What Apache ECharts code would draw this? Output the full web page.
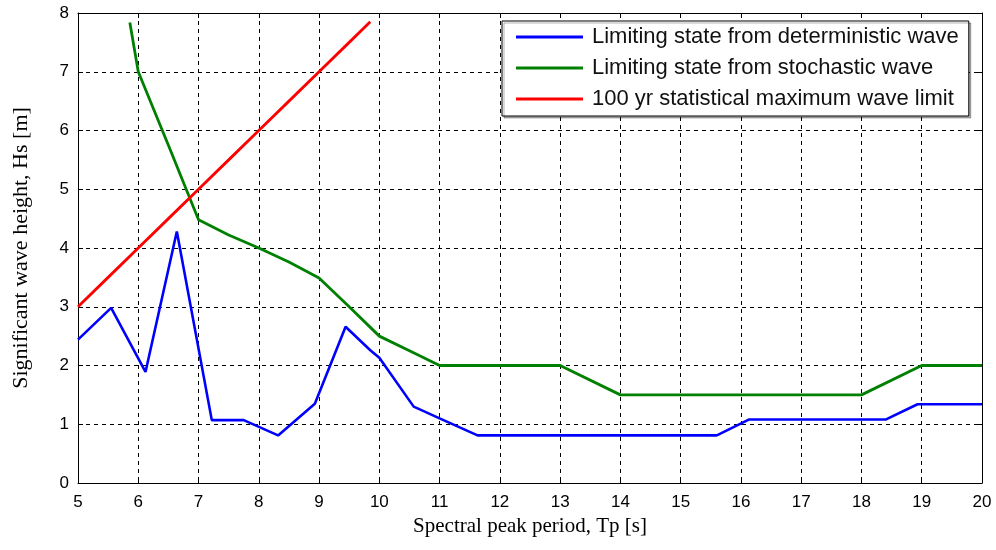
<!DOCTYPE html>
<html>
<head>
<meta charset="utf-8">
<script src="https://cdn.jsdelivr.net/npm/echarts@6/dist/echarts.min.js"></script>
<style>
  html, body { margin: 0; padding: 0; background: #fff; }
  #chart { width: 996px; height: 550px; }
</style>
</head>
<body>
<div id="chart"></div>
<script>
// Spectral peak period Tp [s] vs significant wave height Hs [m]
const deterministicTp = [5, 5.55, 6.12, 6.64, 7.22, 7.75, 8.32, 8.93, 9.44, 9.85, 10.0, 10.57, 11.0, 11.63, 15.6, 16.13, 18.4, 18.93, 20];
const deterministicHs = [2.44, 2.98, 1.89, 4.28, 1.07, 1.07, 0.81, 1.35, 2.66, 2.26, 2.13, 1.3, 1.1, 0.81, 0.81, 1.08, 1.08, 1.34, 1.34];

const stochasticTp = [5.86, 6.0, 6.5, 7.0, 7.5, 8.0, 8.5, 9.0, 9.5, 10.0, 10.5, 11.0, 13.0, 14.0, 18.0, 19.0, 20.0];
const stochasticHs = [7.84, 7.0, 5.75, 4.48, 4.22, 4.0, 3.76, 3.49, 3.0, 2.5, 2.25, 2.0, 2.0, 1.5, 1.5, 2.0, 2.0];

const limitTp = [5, 5.5, 6, 6.5, 7, 7.5, 8, 8.5, 9, 9.5, 9.85];
const limitHs = [3, 3.5, 4, 4.5, 5, 5.5, 6, 6.5, 7, 7.5, 7.85];

const seriesNames = [
  'Limiting state from deterministic wave',
  'Limiting state from stochastic wave',
  '100 yr statistical maximum wave limit'
];
const seriesColors = ['#0000ff', '#008000', '#ff0000'];

const xTitle = 'Spectral peak period, Tp [s]';
const yTitle = 'Significant wave height, Hs [m]';

const pairs = (xs, ys) => xs.map((x, i) => [x, ys[i]]);

const tickFont = { fontFamily: 'Liberation Sans', fontSize: 17, color: '#000' };
const gridDash = { color: '#000', width: 1, type: [4, 4] };

const chart = echarts.init(document.getElementById('chart'), null, { renderer: 'canvas' });
chart.setOption({
  animation: false,
  backgroundColor: '#fff',
  grid: { left: 78, right: 14, top: 13, bottom: 67, containLabel: false },
  legend: {
    left: 502, top: 21,
    orient: 'vertical',
    backgroundColor: '#fff',
    borderColor: '#000', borderWidth: 1,
    padding: [5, 10, 6, 14],
    itemGap: 9,
    icon: 'rect', itemWidth: 67, itemHeight: 3,
    textStyle: { fontFamily: 'Liberation Sans', fontSize: 22, color: '#111', padding: [0, 0, 0, 4] },
    shadowColor: 'rgba(0,0,0,0.3)', shadowOffsetX: 2, shadowOffsetY: 2, shadowBlur: 0,
    data: seriesNames
  },
  xAxis: [
    {
      type: 'value', min: 5, max: 20, interval: 1, position: 'bottom',
      axisLine: { onZero: false, lineStyle: { color: '#000', width: 1 } },
      axisTick: { inside: true, length: 5, lineStyle: { color: '#000' } },
      axisLabel: Object.assign({ margin: 11 }, tickFont),
      splitLine: { show: true, lineStyle: gridDash },
      name: xTitle, nameLocation: 'middle', nameGap: 30,
      nameTextStyle: { fontFamily: 'Liberation Serif', fontSize: 21, color: '#000' }
    },
    {
      type: 'value', min: 5, max: 20, interval: 1, position: 'top',
      axisLine: { onZero: false, lineStyle: { color: '#000', width: 1 } },
      axisTick: { inside: true, length: 5, lineStyle: { color: '#000' } },
      axisLabel: { show: false }, splitLine: { show: false }
    }
  ],
  yAxis: [
    {
      type: 'value', min: 0, max: 8, interval: 1, position: 'left',
      axisLine: { show: true, onZero: false, lineStyle: { color: '#000', width: 1 } },
      axisTick: { show: true, inside: true, length: 5, lineStyle: { color: '#000' } },
      axisLabel: Object.assign({ margin: 9 }, tickFont),
      splitLine: { show: true, lineStyle: gridDash },
      name: yTitle, nameLocation: 'middle', nameGap: 46,
      nameTextStyle: { fontFamily: 'Liberation Serif', fontSize: 22, color: '#000' }
    },
    {
      type: 'value', min: 0, max: 8, interval: 1, position: 'right',
      axisLine: { show: true, onZero: false, lineStyle: { color: '#000', width: 1 } },
      axisTick: { show: true, inside: true, length: 5, lineStyle: { color: '#000' } },
      axisLabel: { show: false }, splitLine: { show: false }
    }
  ],
  series: [
    {
      name: seriesNames[0], type: 'line', data: pairs(deterministicTp, deterministicHs),
      showSymbol: false, symbol: 'none', color: seriesColors[0],
      lineStyle: { color: seriesColors[0], width: 2.6 }, clip: true
    },
    {
      name: seriesNames[1], type: 'line', data: pairs(stochasticTp, stochasticHs),
      showSymbol: false, symbol: 'none', color: seriesColors[1],
      lineStyle: { color: seriesColors[1], width: 2.8 }, clip: true
    },
    {
      name: seriesNames[2], type: 'line', data: pairs(limitTp, limitHs),
      showSymbol: false, symbol: 'none', color: seriesColors[2],
      lineStyle: { color: seriesColors[2], width: 2.8 }, clip: true
    }
  ]
});
</script>
</body>
</html>
